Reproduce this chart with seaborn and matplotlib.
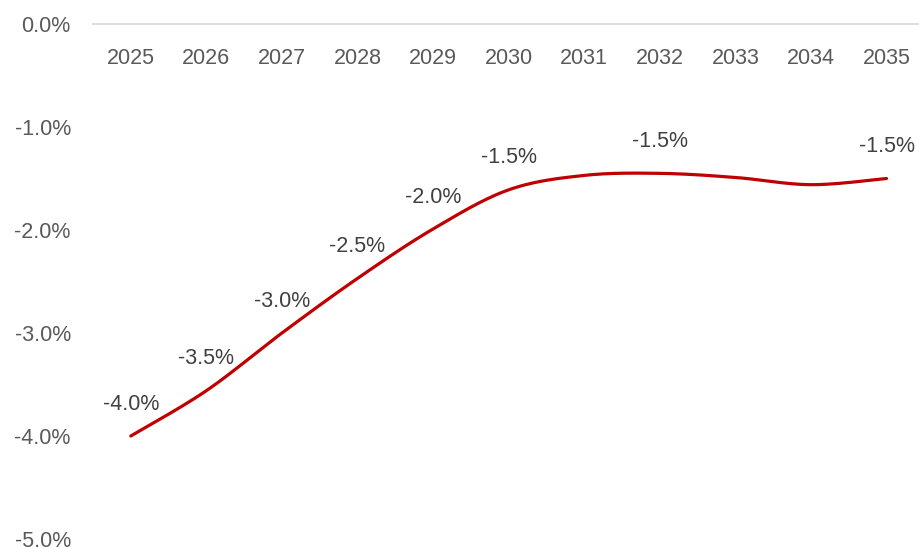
import numpy as np
import pandas as pd
import matplotlib.pyplot as plt
import seaborn as sns

years = ["2025", "2026", "2027", "2028", "2029", "2030",
         "2031", "2032", "2033", "2034", "2035"]
values = [-4.0, -3.56, -3.0, -2.47, -1.99, -1.61,
          -1.47, -1.45, -1.49, -1.56, -1.5]
labels = ["-4.0%", "-3.5%", "-3.0%", "-2.5%", "-2.0%", "-1.5%",
          "", "-1.5%", "", "", "-1.5%"]
yticks = [0, -1, -2, -3, -4, -5]


def smooth(xs, ys, n=40):
    # excel-like smoothed line (catmull-rom through the points)
    xs = np.asarray(xs, float)
    ys = np.asarray(ys, float)
    px = np.concatenate([[xs[0]], xs, [xs[-1]]])
    py = np.concatenate([[ys[0]], ys, [ys[-1]]])
    outx, outy = [], []
    t = np.linspace(0, 1, n)
    for i in range(1, len(px) - 2):
        for p, out in ((px, outx), (py, outy)):
            p0, p1, p2, p3 = p[i - 1], p[i], p[i + 1], p[i + 2]
            out.extend(0.5 * (2 * p1 + (-p0 + p2) * t
                              + (2 * p0 - 5 * p1 + 4 * p2 - p3) * t ** 2
                              + (-p0 + 3 * p1 - 3 * p2 + p3) * t ** 3))
    return np.array(outx), np.array(outy)


sx, sy = smooth(range(len(years)), values)
curve = pd.DataFrame({"x": sx, "y": sy})

sns.set_theme(style="white")
plt.rcParams["font.family"] = ["Liberation Sans", "DejaVu Sans"]

fig = plt.figure(figsize=(9.19, 5.47), dpi=100)
ax = fig.add_axes([93 / 919, 8 / 547, 826 / 919, 515 / 547])

sns.lineplot(data=curve, x="x", y="y", color="#C00000", linewidth=2.3,
             sort=False, ax=ax)

for i, (v, lab) in enumerate(zip(values, labels)):
    if lab:
        ax.annotate(lab, (i, v), xytext=(0, 23), textcoords="offset points",
                    ha="center", va="center", fontsize=15.5, color="#404040")

ax.set_xlim(-0.5, 10.43)
ax.set_ylim(-5, 0)
ax.set_xticks(range(len(years)))
ax.set_xticklabels(years)
ax.set_yticks(yticks)
ax.set_yticklabels([f"{t:.1f}%" for t in yticks])
ax.set_xlabel("")
ax.set_ylabel("")

for s in ["top", "left", "right"]:
    ax.spines[s].set_visible(False)
ax.spines["bottom"].set_position(("data", 0))
ax.spines["bottom"].set_color("#d9d9d9")
ax.spines["bottom"].set_linewidth(1.3)
ax.tick_params(axis="x", length=0, pad=17, labelsize=15.5, labelcolor="#595959")
ax.tick_params(axis="y", length=0, pad=16, labelsize=15.5, labelcolor="#595959")
ax.grid(False)

plt.savefig("out.png", dpi=100)
print("saved")
